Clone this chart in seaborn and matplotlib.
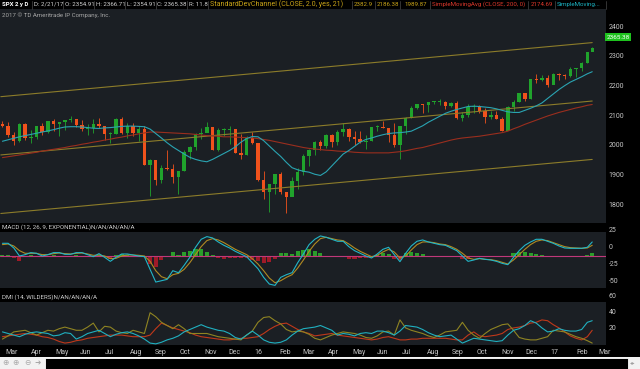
import numpy as np
import pandas as pd
import matplotlib
matplotlib.use("Agg")
import matplotlib.pyplot as plt
import matplotlib.transforms as mtransforms
from matplotlib.patches import Rectangle
from matplotlib.lines import Line2D
import seaborn as sns

# weekly SPX bars (week of Feb 23 2015 ... partial week of Feb 21 2017)
first_open = 2110
closes = [2104, 2071, 2053, 2108, 2061, 2067, 2102, 2081, 2118, 2108,
          2116, 2123, 2126, 2107, 2093, 2094, 2110, 2102, 2077, 2077,
          2127, 2080, 2104, 2078, 2092, 1971, 1989, 1921, 1961, 1958,
          1931, 1951, 2015, 2033, 2075, 2079, 2099, 2023, 2089, 2090,
          2092, 2012, 2006, 2061, 2044, 1922, 1880, 1907, 1940, 1880,
          1865, 1918, 1948, 2000, 2022, 2050, 2036, 2073, 2048, 2081,
          2092, 2065, 2057, 2047, 2052, 2099, 2099, 2096, 2071, 2037,
          2103, 2130, 2162, 2175, 2174, 2183, 2184, 2184, 2169, 2180,
          2128, 2139, 2165, 2168, 2154, 2133, 2141, 2126, 2085, 2165,
          2182, 2213, 2192, 2260, 2258, 2264, 2239, 2277, 2275, 2271,
          2295, 2297, 2316, 2351, 2365.38]
highs = [2119, 2117, 2083, 2114, 2114, 2089, 2103, 2111, 2120, 2126,
         2117, 2123, 2135, 2126, 2121, 2110, 2126, 2129, 2101, 2082,
         2129, 2132, 2111, 2112, 2103, 2102, 1993, 1986, 1970, 2021,
         1974, 1951, 2020, 2034, 2080, 2094, 2116, 2093, 2097, 2094,
         2104, 2093, 2076, 2068, 2081, 2038, 1950, 1908, 1940, 1947,
         1881, 1930, 1962, 2009, 2024, 2052, 2056, 2075, 2075, 2088,
         2111, 2096, 2084, 2084, 2072, 2100, 2105, 2120, 2085, 2113,
         2104, 2131, 2169, 2176, 2177, 2183, 2188, 2193, 2188, 2184,
         2187, 2150, 2176, 2176, 2173, 2163, 2153, 2154, 2131, 2170,
         2190, 2214, 2214, 2260, 2278, 2273, 2273, 2282, 2279, 2276,
         2301, 2299, 2319, 2352, 2366.71]
lows = [2098, 2066, 2040, 2049, 2056, 2045, 2060, 2073, 2079, 2085,
        2068, 2089, 2117, 2100, 2085, 2072, 2079, 2097, 2056, 2044,
        2076, 2077, 2063, 2070, 2052, 1970, 1867, 1903, 1911, 1953,
        1909, 1872, 1950, 1991, 2022, 2060, 2081, 2022, 2019, 2070,
        2042, 2012, 1993, 2005, 2043, 1918, 1857, 1812, 1872, 1872,
        1810, 1871, 1891, 1938, 1969, 2005, 2023, 2028, 2033, 2039,
        2070, 2053, 2039, 2045, 2025, 2051, 2085, 2095, 2050, 2033,
        1991, 2074, 2128, 2159, 2147, 2148, 2175, 2172, 2160, 2165,
        2127, 2119, 2132, 2145, 2147, 2114, 2125, 2126, 2084, 2097,
        2152, 2183, 2187, 2192, 2248, 2253, 2234, 2245, 2258, 2259,
        2266, 2268, 2288, 2313, 2354.91]

sma50 = [2051, 2056, 2061, 2066, 2070, 2074, 2078, 2082, 2086, 2090,
         2095, 2099, 2100, 2100, 2099, 2097, 2095, 2094, 2096, 2097,
         2099, 2101, 2102, 2102, 2101, 2100, 2092, 2077, 2062, 2046,
         2032, 2020, 2008, 1997, 1990, 1985, 1982, 1990, 2000, 2010,
         2020, 2032, 2048, 2060, 2067, 2066, 2053, 2035, 2017, 2000,
         1980, 1962, 1955, 1950, 1947, 1940, 1936, 1948, 1968, 1988,
         2008, 2020, 2034, 2048, 2057, 2062, 2068, 2073, 2077, 2079,
         2080, 2082, 2085, 2094, 2103, 2115, 2125, 2135, 2145, 2152,
         2158, 2163, 2168, 2169, 2168, 2166, 2164, 2160, 2155, 2150,
         2148, 2148, 2155, 2162, 2170, 2180, 2195, 2210, 2225, 2238,
         2250, 2259, 2268, 2278, 2285]
sma200 = [1996, 1999, 2002, 2005, 2008, 2011, 2014, 2018, 2021, 2024,
          2027, 2030, 2034, 2037, 2041, 2044, 2048, 2051, 2055, 2058,
          2062, 2065, 2069, 2072, 2076, 2079, 2082, 2082, 2081, 2080,
          2079, 2078, 2077, 2076, 2074, 2072, 2070, 2069, 2068, 2066,
          2066, 2065, 2064, 2063, 2062, 2060, 2057, 2054, 2050, 2046,
          2042, 2038, 2034, 2030, 2027, 2025, 2023, 2021, 2020, 2018,
          2017, 2016, 2014, 2013, 2012, 2012, 2012, 2012, 2012, 2014,
          2016, 2019, 2023, 2027, 2030, 2035, 2040, 2045, 2050, 2055,
          2059, 2062, 2064, 2066, 2068, 2071, 2074, 2077, 2080, 2085,
          2093, 2100, 2108, 2115, 2122, 2129, 2136, 2142, 2148, 2153,
          2158, 2163, 2167, 2172, 2174.69]

# standard deviation channel end points
channel_dates = ["2015-02-23", "2017-02-21"]
channel_upper = [2201, 2382.9]
channel_mid = [2005, 2186.38]
channel_lower = [1808, 1989.87]

macd = [19, 19, 12, 0, 2, 5, 4, 0, 2, 5,
        5, 2.5, 2.5, 5, 5, 2, -1, 3.5, -2, -8,
        -2, 3, 3, 1.5, 0, -1, -20, -39, -37, -35,
        -22, -25, -14, -2, 13, 25, 29, 27, 21, 16,
        12, 7, 3, -1, -10, -19, -32, -42, -44, -32,
        -28, -25, -10, 3, 17, 25, 30, 28, 25, 22,
        22, 14, 8, 4, 0, -3, 3, 10, 13, 2,
        -8.5, 4, 15, 22, 24, 21, 19, 17, 16, 12,
        8, 0, -8, -6, -3.5, -5, -6, -8, -11, -13,
        -2, 8, 16, 21, 25, 25, 22, 19, 15, 12,
        11.5, 11.5, 11.5, 13, 21]
macd_avg = [17, 18, 15, 8, 4, 4, 4, 2, 2, 3.5,
            4.5, 3.5, 3, 4, 4.5, 3, 1, 1.5, 0, -4,
            -3.5, 0, 1.5, 1.5, 1, 0, -8, -22, -31, -34,
            -28, -26, -20, -10, 2, 14, 23, 26, 24, 20,
            15, 10, 6, 2, -4, -12, -22, -33, -40, -37,
            -32, -28, -18, -6, 7, 18, 26, 28, 26, 24,
            23, 18, 12, 7, 3, -1, 1, 6, 10, 6,
            -3, 0, 9, 17, 21, 21, 20, 18, 17, 14,
            10, 4, -3, -5, -4, -5, -5.5, -7, -9.5, -12,
            -6, 2, 10, 17, 22, 24, 23, 20, 17, 14,
            12.5, 12, 11.5, 12, 16]

di_plus = [26, 24, 22, 20, 23, 25, 26, 25, 24, 21,
           22, 25, 24, 17, 20, 24, 26, 28, 24, 20,
           23, 25, 26, 24, 21, 17, 12, 11, 13, 16,
           18, 21, 26, 29, 32, 35, 32, 30, 28, 27,
           24, 19, 17, 22, 27, 22, 16, 13, 12, 13,
           16, 22, 27, 30, 31, 32, 34, 31, 28, 22,
           24, 23, 21, 24, 25, 24, 27, 27, 25, 22,
           27, 34, 33, 32, 29, 25, 22, 20, 21, 22,
           17, 12, 15, 18, 17, 16, 15, 14, 15, 22,
           28, 30, 34, 40, 37, 31, 26, 27, 30, 28,
           27, 27, 29, 38, 40]
di_minus = [17, 21, 26, 27, 28, 25, 22, 25, 28, 27,
            30, 32, 30, 28, 28, 32, 37, 26, 33, 32,
            27, 25, 24, 28, 26, 24, 50, 45, 38, 34,
            30, 35, 30, 24, 24, 24, 24, 22, 20, 19,
            18, 17, 16, 22, 27, 38, 44, 45, 40, 36,
            29, 26, 27, 26, 23, 18, 16, 19, 22, 24,
            26, 25, 24, 22, 19, 18, 21, 26, 27, 22,
            41, 31, 28, 26, 24, 21, 19, 22, 26, 27,
            28, 38, 28, 22, 18, 24, 29, 32, 35, 36,
            28, 19, 17, 16, 16, 18, 20, 28, 27, 26,
            23, 20, 18, 15, 12]
adx = [20, 21, 22, 23, 24, 23, 22, 20, 19, 17,
       14, 12, 13, 15, 16, 18, 19, 20, 21, 22,
       22, 22, 21, 20, 20, 20, 22, 30, 37, 34,
       31, 29, 27, 25, 22, 20, 19, 18, 17, 16,
       16, 17, 18, 18, 19, 20, 24, 29, 33, 36,
       37, 33, 29, 26, 24, 21, 22, 23, 24, 22,
       21, 20, 19, 18, 17, 16, 17, 19, 20, 18,
       16, 16, 17, 17, 18, 18, 18, 18, 18, 17,
       16, 16, 22, 26, 21, 20, 21, 22, 24, 29,
       31, 32, 34, 37, 38, 41, 40, 35, 31, 26,
       21, 18, 16, 20, 28]

month_labels = ["Mar", "Apr", "May", "Jun", "Jul", "Aug", "Sep", "Oct", "Nov", "Dec",
                "16", "Feb", "Mar", "Apr", "May", "Jun", "Jul", "Aug", "Sep", "Oct",
                "Nov", "Dec", "17", "Feb", "Mar"]
price_ticks = [1800, 1900, 2000, 2100, 2200, 2300, 2400]
macd_ticks = [25, 0, -25, -50]
dmi_ticks = [20, 40, 60]

dates = list(pd.date_range("2015-02-25", periods=len(closes) - 1, freq="7D")) + [pd.Timestamp("2017-02-21")]
df = pd.DataFrame({"date": dates, "open": [first_open] + closes[:-1], "high": highs, "low": lows,
                   "close": closes, "sma50": sma50, "sma200": sma200, "macd": macd, "avg": macd_avg,
                   "di_plus": di_plus, "di_minus": di_minus, "adx": adx})
df["diff"] = df["macd"] - df["avg"]
chan = pd.DataFrame({"date": pd.to_datetime(channel_dates), "upper": channel_upper,
                     "mid": channel_mid, "lower": channel_lower})
months = pd.date_range("2015-03-01", periods=len(month_labels), freq="MS")

sns.set_style("dark")
plt.rcParams["font.family"] = ["Roboto", "DejaVu Sans"]

W, H = 640, 369
fig = plt.figure(figsize=(W / 100, H / 100), dpi=100, facecolor="black")
PANEL = "#1b1f24"
LABEL = "#c4c4c4"


def px_axes(left, top, right, bottom, **kw):
    return fig.add_axes([left / W, 1 - bottom / H, (right - left) / W, (bottom - top) / H], **kw)


ax_p = px_axes(0, 9, 606, 223)
ax_m = px_axes(0, 232, 606, 288, sharex=ax_p)
ax_d = px_axes(0, 302, 606, 345, sharex=ax_p)

for ax in (ax_p, ax_m, ax_d):
    ax.set_facecolor(PANEL)
    for s in ax.spines.values():
        s.set_visible(False)
    ax.grid(False)
    ax.set_yticks([])

# price panel
up = df["close"] >= df["open"]
colors = np.where(up, "#20a32c", "#f0521c")
ax_p.vlines(df["date"], df["low"], df["high"], colors=colors, lw=0.6)
body = (df["close"] - df["open"]).abs().clip(lower=2)
ax_p.bar(df["date"], body, bottom=df[["open", "close"]].min(axis=1), width=4.2, color=colors, lw=0)
for col in ["upper", "mid", "lower"]:
    sns.lineplot(data=chan, x="date", y=col, ax=ax_p, color="#8c7c2a", lw=0.8)
sns.lineplot(data=df, x="date", y="sma200", ax=ax_p, color="#9a2e1e", lw=0.8)
sns.lineplot(data=df, x="date", y="sma50", ax=ax_p, color="#2aa4b2", lw=0.8)
ax_p.set_ylim(1776, 2496)

# MACD panel
ax_m.bar(df["date"], df["diff"], width=5, color=np.where(df["diff"] >= 0, "#2a9e2a", "#a01a28"), lw=0)
ax_m.axhline(0, color="#c0387a", lw=0.8)
sns.lineplot(data=df, x="date", y="avg", ax=ax_m, color="#b08a22", lw=0.8)
sns.lineplot(data=df, x="date", y="macd", ax=ax_m, color="#22b6c8", lw=0.8)
ax_m.set_ylim(-47.9, 35.9)

# DMI panel
sns.lineplot(data=df, x="date", y="adx", ax=ax_d, color="#c0381a", lw=0.8)
sns.lineplot(data=df, x="date", y="di_minus", ax=ax_d, color="#8f8422", lw=0.8)
sns.lineplot(data=df, x="date", y="di_plus", ax=ax_d, color="#20b0c0", lw=0.8)
ax_d.set_ylim(9.6, 63.4)

for ax in (ax_p, ax_m, ax_d):
    ax.set_xlabel("")
    ax.set_ylabel("")
ax_p.set_xlim(pd.Timestamp("2015-02-22"), pd.Timestamp("2017-03-10"))
ax_d.set_xticks(months)
ax_d.set_xticklabels(month_labels, ha="left")
ax_d.tick_params(axis="x", length=0, pad=3, labelsize=5, colors=LABEL)
ax_p.tick_params(axis="x", labelbottom=False, length=0)
ax_m.tick_params(axis="x", labelbottom=False, length=0)


def right_labels(ax, ticks, shift_px):
    tr = mtransforms.blended_transform_factory(ax.transAxes, ax.transData) + \
        mtransforms.ScaledTranslation(0, shift_px / 100, fig.dpi_scale_trans)
    for t in ticks:
        ax.text(1.004, t, str(t), transform=tr, ha="left", va="center", fontsize=5,
                color=LABEL, clip_on=False)
    return tr


tr = right_labels(ax_p, price_ticks, 10.5)
ax_p.text(1.001, closes[-1], f"{closes[-1]:.2f}", transform=tr, ha="left", va="center",
          fontsize=4.6, color="white", clip_on=False,
          bbox=dict(boxstyle="square,pad=0.25", fc="#1ec21e", ec="none"))
right_labels(ax_m, macd_ticks, 8.3)
right_labels(ax_d, dmi_ticks, 8)


def ftext(x, y, s, size=4.4, **kw):
    fig.text(x / W, 1 - y / H, s, va="center", ha="left", fontsize=size, **kw)


# header row
ftext(2, 4.5, "SPX 2 y D", color="white", weight="bold")
for x, s in [(34, "D: 2/21/17"), (65, "O: 2354.91"), (96, "H: 2366.71"), (127, "L: 2354.91"),
             (157, "C: 2365.38"), (189, "R: 11.8")]:
    ftext(x, 4.5, s, color="#d4d4d4")
ftext(210, 4.5, "StandardDevChannel (CLOSE, 2.0, yes, 21)", size=5.1, color="#c9a418")
for x, s in [(354, "2382.9"), (377, "2186.38"), (404, "1989.87")]:
    ftext(x, 4.5, s, color="#c9a418")
ftext(432, 4.5, "SimpleMovingAvg (CLOSE, 200, 0)", color="#e0392c")
ftext(531, 4.5, "2174.69", color="#e0392c")
ftext(557, 4.5, "SimpleMoving...", color="#1cb8c8")
for x in [32, 63, 94, 125, 155.5, 187, 208, 352, 375, 400, 430, 528, 555, 606]:
    fig.add_artist(Line2D([x / W, x / W], [1 - 0.5 / H, 1 - 8.5 / H], color="#3c3c3c", lw=0.6))

ftext(2, 15, "2017 \u00a9 TD Ameritrade IP Company, Inc.", color="#a8a8a8")
ftext(2, 227, "MACD (12, 26, 9, EXPONENTIAL)N/AN/AN/AN/A", color="#d0d0d0")
ftext(2, 297, "DMI (14, WILDERS)N/AN/AN/AN/A", color="#d0d0d0")

# bottom toolbar
fig.patches.append(Rectangle((0, 0), 1, 12 / H, transform=fig.transFigure, fc="#f2f2f2", ec="none"))
fig.patches.append(Rectangle((45 / W, 0), 583 / W, 11 / H, transform=fig.transFigure,
                             fc="black", ec="white", lw=0.6))
for x, s in [(2, "\u2295"), (12, "\u2295"), (24, "\u2296"), (35, "\u279c")]:
    fig.text(x / W, 1 - 363 / H, s, va="center", ha="left", fontsize=5.5, color="#a8a8a8")
fig.text(630 / W, 1 - 363 / H, "\u25c2\u25b8", va="center", ha="left", fontsize=4, color="#a0a0a0")

fig.savefig("out.png", dpi=100, facecolor="black")
